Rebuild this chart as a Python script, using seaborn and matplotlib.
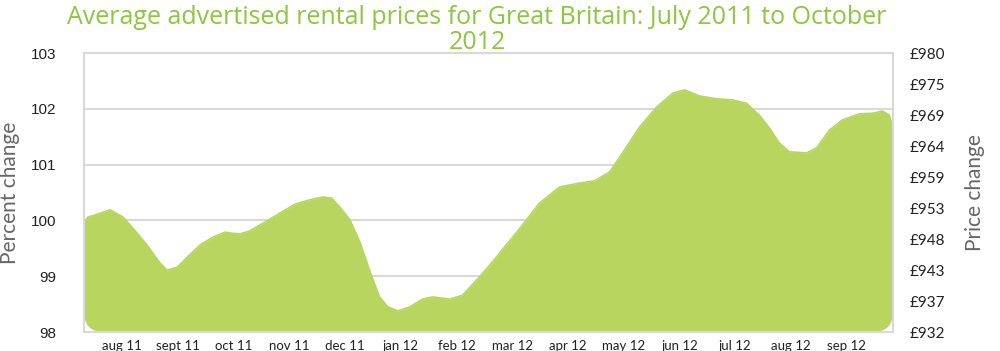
import numpy as np
import pandas as pd
import matplotlib
matplotlib.use('Agg')
import matplotlib.pyplot as plt
import seaborn as sns
from matplotlib.patches import FancyBboxPatch

# months since jul 11 (1 = aug 11) and the index value
months = [0.32, 0.39, 0.52, 0.79, 1.02, 1.20, 1.45, 1.68, 1.81, 1.99, 2.17, 2.40,
          2.63, 2.85, 2.97, 3.12, 3.29, 3.53, 3.83, 4.10, 4.37, 4.60, 4.76, 4.91,
          5.09, 5.27, 5.44, 5.62, 5.77, 5.95, 6.16, 6.39, 6.57, 6.88, 7.11, 7.36,
          7.60, 7.86, 8.13, 8.49, 8.85, 9.21, 9.48, 9.75, 9.98, 10.28, 10.59, 10.88,
          11.09, 11.36, 11.66, 11.95, 12.20, 12.43, 12.61, 12.79, 12.97, 13.28, 13.46,
          13.69, 13.92, 14.23, 14.46, 14.64, 14.76, 14.83]
index_value = [99.97, 100.06, 100.10, 100.19, 100.06, 99.86, 99.56, 99.24, 99.11, 99.16,
               99.34, 99.56, 99.70, 99.79, 99.77, 99.76, 99.81, 99.95, 100.13, 100.29,
               100.37, 100.42, 100.40, 100.24, 100.01, 99.61, 99.11, 98.63, 98.45, 98.38,
               98.45, 98.59, 98.63, 98.59, 98.66, 98.93, 99.20, 99.52, 99.85, 100.31,
               100.60, 100.67, 100.71, 100.87, 101.21, 101.67, 102.03, 102.28, 102.34,
               102.23, 102.18, 102.16, 102.10, 101.89, 101.66, 101.39, 101.23, 101.21,
               101.30, 101.62, 101.80, 101.91, 101.92, 101.96, 101.89, 101.67]

month_labels = ['aug 11', 'sept 11', 'oct 11', 'nov 11', 'dec 11', 'jan 12', 'feb 12',
                'mar 12', 'apr 12', 'may 12', 'jun 12', 'jul 12', 'aug 12', 'sep 12']
left_ticks = [98, 99, 100, 101, 102, 103]
price_min, price_max = 932, 980

df = pd.DataFrame({'month': months, 'index': index_value})

green = '#b8d65f'
title_green = '#8dc63f'
grey = '#d9d9d9'

sns.set_theme(style='white')
plt.rcParams['font.family'] = ['Lato', 'DejaVu Sans']

fig = plt.figure(figsize=(10, 3.51), dpi=100)
ax = fig.add_axes([0.084, 0.054, 0.809, 0.795])

fill = ax.fill_between(df['month'], df['index'], 98, color=green, lw=0)
sns.lineplot(data=df, x='month', y='index', ax=ax, color=green, lw=1.2)

# rounded corners like the original area shape
clip = FancyBboxPatch((0, 0), 1, 1, boxstyle='round,pad=0,rounding_size=0.025',
                      mutation_aspect=2.87, transform=ax.transAxes,
                      facecolor='none', edgecolor='none')
fill.set_clip_path(clip)
for l in ax.lines:
    l.set_clip_path(clip)
    l.set_solid_joinstyle('round')

ax.set_xlim(months[0], months[-1])
ax.set_ylim(98, 103)
ax.set_yticks(left_ticks)
ax.set_yticklabels([str(t) for t in left_ticks], fontsize=11, family='Liberation Sans', color='#222222')
ax.set_xticks(range(1, len(month_labels) + 1))
ax.set_xticklabels(month_labels, fontsize=9.5, color='#222222')
ax.tick_params(axis='both', length=0)
ax.tick_params(axis='x', pad=6)
ax.tick_params(axis='y', pad=20)
ax.yaxis.grid(True, color=grey, lw=1.5)
ax.set_axisbelow(True)
for s in ax.spines.values():
    s.set_color(grey)
    s.set_linewidth(1.5)
ax.set_xlabel('')
ax.set_ylabel('Percent change', fontsize=15, color='#666666', labelpad=8)

ax2 = ax.twinx()
ax2.set_ylim(price_min, price_max)
price_ticks = np.linspace(price_min, price_max, 10)
ax2.set_yticks(price_ticks)
ax2.set_yticklabels(['£%d' % round(p) for p in price_ticks], fontsize=11, color='#222222')
ax2.tick_params(axis='y', length=0, pad=12)
ax2.grid(False)
for s in ax2.spines.values():
    s.set_visible(False)
ax2.set_ylabel('Price change', fontsize=15, color='#666666', labelpad=14)

fig.text(0.477, 0.985, 'Average advertised rental prices for Great Britain: July 2011 to October\n2012',
         ha='center', va='top', fontsize=18, color=title_green, linespacing=1.0,
         family='Open Sans')

plt.savefig('out.png', dpi=100)
